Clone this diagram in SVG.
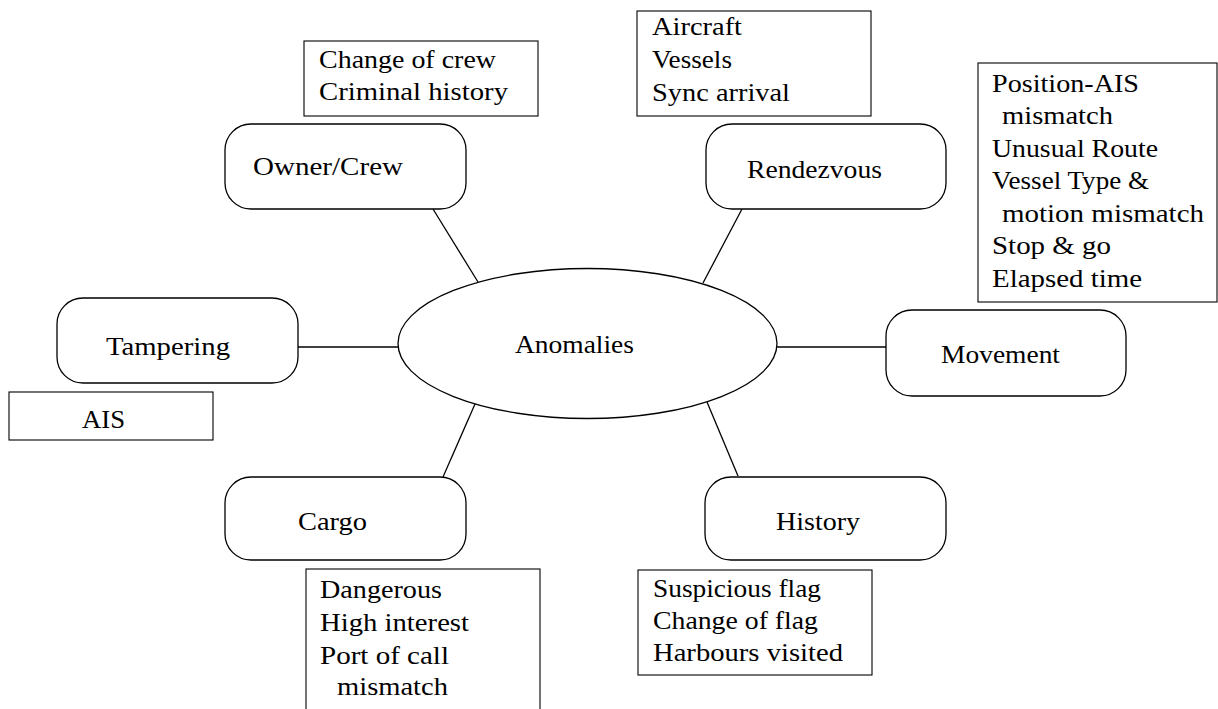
<svg xmlns="http://www.w3.org/2000/svg" width="1218" height="709" viewBox="0 0 1218 709" font-family="'Liberation Serif', 'DejaVu Serif', 'Noto Serif', Times, serif">
  <style>
    .label { font-family: 'Liberation Serif', 'DejaVu Serif', 'Noto Serif', Times, serif; font-size: 26px; fill: #000; }
    .node { fill: #fff; stroke: #000; stroke-width: 1.3; }
    .list { fill: #fff; stroke: #000; stroke-width: 1.1; }
    .edge { stroke: #000; stroke-width: 1.3; fill: none; }
  </style>
  <rect width="1218" height="709" fill="#fff"/>

  <!-- connectors from the central ellipse to each category -->
  <g id="connectors">
    <line class="edge" x1="433" y1="209" x2="478" y2="282"/>
    <line class="edge" x1="742" y1="209" x2="703" y2="283"/>
    <line class="edge" x1="298" y1="347" x2="399" y2="347"/>
    <line class="edge" x1="777" y1="347" x2="886" y2="347"/>
    <line class="edge" x1="475" y1="404" x2="443" y2="477"/>
    <line class="edge" x1="707" y1="402" x2="738" y2="476"/>
  </g>

  <g id="anomalies" class="label">
    <ellipse class="node" cx="587.5" cy="343.5" rx="189.5" ry="75"/>
    <text x="515" y="353" textLength="119" lengthAdjust="spacingAndGlyphs">Anomalies</text>
  </g>

  <g id="owner-crew" class="label">
    <rect class="node" x="225" y="124" width="241" height="85" rx="26"/>
    <text x="253" y="175" textLength="150" lengthAdjust="spacingAndGlyphs">Owner/Crew</text>
  </g>

  <g id="owner-crew-list" class="label">
    <rect class="list" x="304" y="41" width="234" height="75"/>
    <text x="319" y="68" textLength="177" lengthAdjust="spacingAndGlyphs">Change of crew</text>
    <text x="319" y="100" textLength="189" lengthAdjust="spacingAndGlyphs">Criminal history</text>
  </g>

  <g id="rendezvous" class="label">
    <rect class="node" x="706" y="124" width="240" height="85" rx="26"/>
    <text x="747" y="178" textLength="135" lengthAdjust="spacingAndGlyphs">Rendezvous</text>
  </g>

  <g id="rendezvous-list" class="label">
    <rect class="list" x="637" y="11" width="234" height="105"/>
    <text x="652" y="35" textLength="90" lengthAdjust="spacingAndGlyphs">Aircraft</text>
    <text x="652" y="68" textLength="80" lengthAdjust="spacingAndGlyphs">Vessels</text>
    <text x="652" y="101" textLength="138" lengthAdjust="spacingAndGlyphs">Sync arrival</text>
  </g>

  <g id="movement" class="label">
    <rect class="node" x="886" y="310" width="240" height="86" rx="26"/>
    <text x="941" y="363" textLength="119" lengthAdjust="spacingAndGlyphs">Movement</text>
  </g>

  <g id="movement-list" class="label">
    <rect class="list" x="978" y="63" width="239" height="239"/>
    <text x="992" y="91.5" textLength="147" lengthAdjust="spacingAndGlyphs">Position-AIS</text>
    <text x="1002" y="124" textLength="111" lengthAdjust="spacingAndGlyphs">mismatch</text>
    <text x="992" y="156.5" textLength="166" lengthAdjust="spacingAndGlyphs">Unusual Route</text>
    <text x="992" y="189" textLength="157" lengthAdjust="spacingAndGlyphs">Vessel Type &amp;</text>
    <text x="1002" y="221.5" textLength="202" lengthAdjust="spacingAndGlyphs">motion mismatch</text>
    <text x="992" y="254" textLength="119" lengthAdjust="spacingAndGlyphs">Stop &amp; go</text>
    <text x="992" y="287" textLength="150" lengthAdjust="spacingAndGlyphs">Elapsed time</text>
  </g>

  <g id="tampering" class="label">
    <rect class="node" x="57" y="298" width="241" height="85" rx="26"/>
    <text x="106" y="355" textLength="124" lengthAdjust="spacingAndGlyphs">Tampering</text>
  </g>

  <g id="tampering-list" class="label">
    <rect class="list" x="9" y="392" width="204" height="48"/>
    <text x="82" y="428" textLength="43" lengthAdjust="spacingAndGlyphs">AIS</text>
  </g>

  <g id="cargo" class="label">
    <rect class="node" x="225" y="477" width="241" height="83" rx="26"/>
    <text x="298" y="530" textLength="69" lengthAdjust="spacingAndGlyphs">Cargo</text>
  </g>

  <g id="cargo-list" class="label">
    <rect class="list" x="306" y="569" width="234" height="160"/>
    <text x="320" y="598" textLength="122" lengthAdjust="spacingAndGlyphs">Dangerous</text>
    <text x="320" y="631" textLength="149" lengthAdjust="spacingAndGlyphs">High interest</text>
    <text x="320" y="664" textLength="129" lengthAdjust="spacingAndGlyphs">Port of call</text>
    <text x="337" y="695" textLength="111" lengthAdjust="spacingAndGlyphs">mismatch</text>
  </g>

  <g id="history" class="label">
    <rect class="node" x="705" y="477" width="241" height="83" rx="26"/>
    <text x="776" y="530" textLength="84" lengthAdjust="spacingAndGlyphs">History</text>
  </g>

  <g id="history-list" class="label">
    <rect class="list" x="638" y="570" width="234" height="105"/>
    <text x="653" y="597" textLength="168" lengthAdjust="spacingAndGlyphs">Suspicious flag</text>
    <text x="653" y="629" textLength="165" lengthAdjust="spacingAndGlyphs">Change of flag</text>
    <text x="653" y="661" textLength="190" lengthAdjust="spacingAndGlyphs">Harbours visited</text>
  </g>
</svg>
